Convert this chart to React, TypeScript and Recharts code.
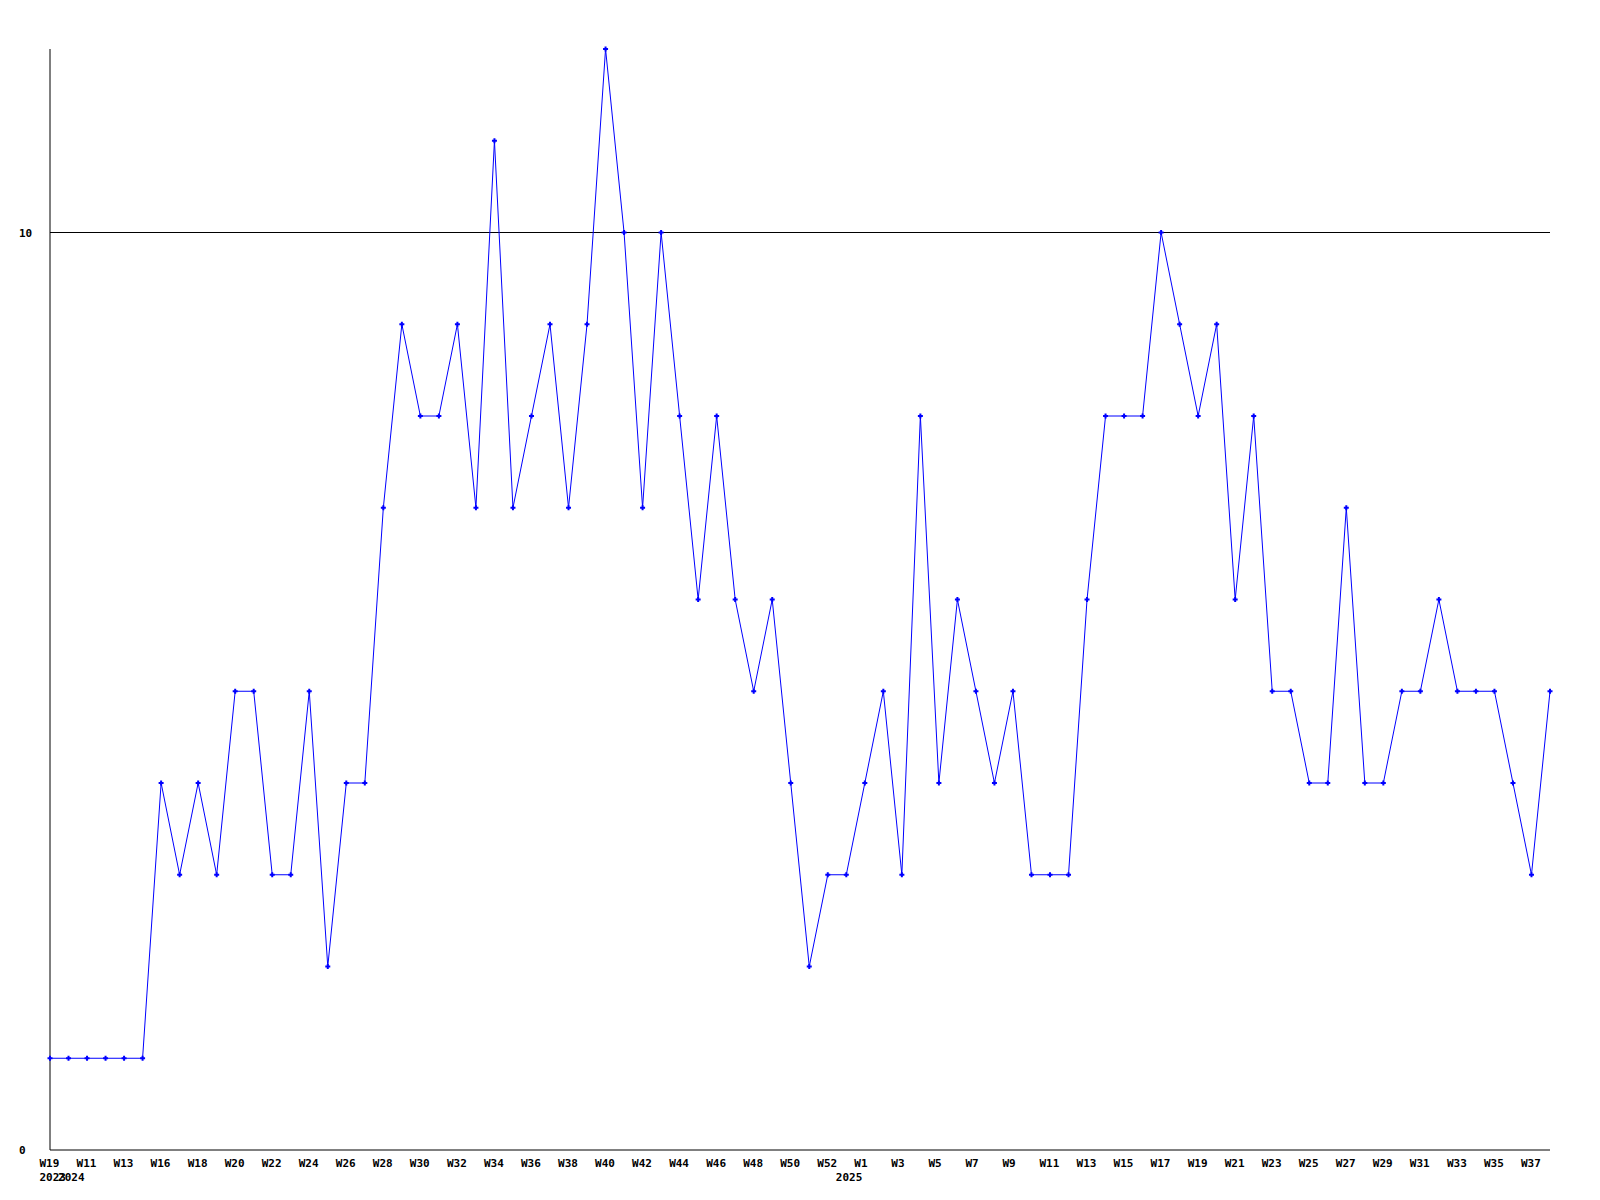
import React from "react";
import { LineChart, Line, XAxis, YAxis, ReferenceLine } from "recharts";

const weeks: string[] = [
  "W19", "W10", "W11", "W12", "W13", "W15", "W16", "W17", "W18", "W19",
  "W20", "W21", "W22", "W23", "W24", "W25", "W26", "W27", "W28", "W29",
  "W30", "W31", "W32", "W33", "W34", "W35", "W36", "W37", "W38", "W39",
  "W40", "W41", "W42", "W43", "W44", "W45", "W46", "W47", "W48", "W49",
  "W50", "W51", "W52", "W0", "W1", "W2", "W3", "W4", "W5", "W6",
  "W7", "W8", "W9", "W10", "W11", "W12", "W13", "W14", "W15", "W16",
  "W17", "W18", "W19", "W20", "W21", "W22", "W23", "W24", "W25", "W26",
  "W27", "W28", "W29", "W30", "W31", "W32", "W33", "W34", "W35", "W36",
  "W37", "W38",
];

const years: string[] = [
  "2023",
  ...Array(42).fill("2024"),
  ...Array(39).fill("2025"),
];

const values: number[] = [
  1, 1, 1, 1, 1, 1, 4, 3, 4, 3,
  5, 5, 3, 3, 5, 2, 4, 4, 7, 9,
  8, 8, 9, 7, 11, 7, 8, 9, 7, 9,
  12, 10, 7, 10, 8, 6, 8, 6, 5, 6,
  4, 2, 3, 3, 4, 5, 3, 8, 4, 6,
  5, 4, 5, 3, 3, 3, 6, 8, 8, 8,
  10, 9, 8, 9, 6, 8, 5, 5, 4, 4,
  7, 4, 4, 5, 5, 6, 5, 5, 5, 4,
  3, 5,
];

const yTicks: number[] = [0, 10];

const data = values.map((v, i) => ({ i, week: weeks[i], year: years[i], value: v }));

const FONT = "'DejaVu Sans Mono', 'Liberation Mono', monospace";

const XTick = (props: any) => {
  const { x, y, payload } = props;
  const i = payload.value as number;
  const showWeek = i % 2 === 0;
  const showYear = i === 0 || years[i] !== years[i - 1];
  return (
    <g>
      {showWeek && (
        <text x={x - 10.5} y={y + 17} textAnchor="start" fontFamily={FONT} fontWeight="bold" fontSize={11} fill="#000">
          {weeks[i]}
        </text>
      )}
      {showYear && (
        <text x={x - 10.5} y={y + 31} textAnchor="start" fontFamily={FONT} fontWeight="bold" fontSize={11} fill="#000">
          {years[i]}
        </text>
      )}
    </g>
  );
};

const YTick = (props: any) => {
  const { x, y, payload } = props;
  return (
    <text x={x - 31} y={y + 4} textAnchor="start" fontFamily={FONT} fontWeight="bold" fontSize={11} fill="#000">
      {payload.value}
    </text>
  );
};

const PlusDot = (props: any) => {
  const { cx, cy, index } = props;
  if (cx == null || cy == null) return <g key={index} />;
  return (
    <path
      key={index}
      d={`M${cx - 2.5},${cy - 1}h5v2h-5z M${cx - 1},${cy - 2.5}h2v5h-2z`}
      fill="#0000ff"
      stroke="none"
    />
  );
};

export default function App() {
  return (
    <div style={{ position: "absolute", left: 0, top: 0, width: 1600, height: 1200, background: "#fff" }}>
      <LineChart width={1600} height={1200} data={data} margin={{ top: 49, right: 50, bottom: 0, left: 19 }}>
        <XAxis
          dataKey="i"
          type="category"
          interval={0}
          height={50}
          tickLine={false}
          tickSize={0}
          tickMargin={0}
          axisLine={{ stroke: "#000", strokeWidth: 1 }}
          tick={<XTick />}
        />
        <YAxis
          type="number"
          domain={[0, 12]}
          ticks={yTicks}
          width={31}
          tickLine={false}
          tickSize={0}
          tickMargin={0}
          axisLine={{ stroke: "#000", strokeWidth: 1 }}
          tick={<YTick />}
        />
        <ReferenceLine y={10} stroke="#000" strokeWidth={1} />
        <Line
          type="linear"
          dataKey="value"
          stroke="#0000ff"
          strokeWidth={1}
          dot={PlusDot}
          activeDot={false}
          isAnimationActive={false}
        />
      </LineChart>
    </div>
  );
}
